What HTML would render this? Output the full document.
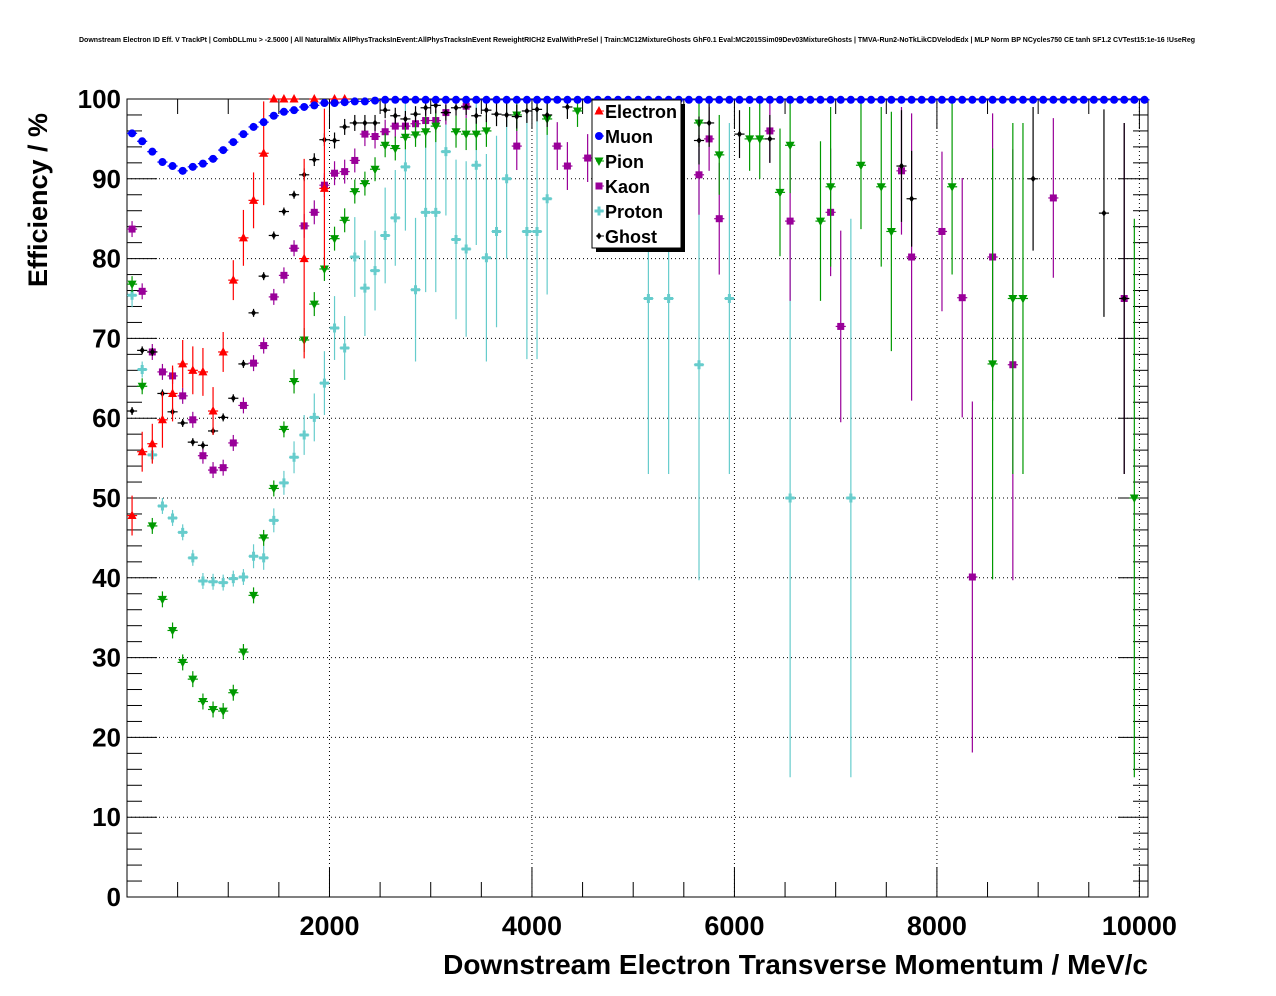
<!DOCTYPE html>
<html><head><meta charset="utf-8"><style>
body{margin:0;background:#fff;}
svg{display:block;font-family:"Liberation Sans",sans-serif;}
</style></head><body>
<svg id="chart" width="1276" height="996" viewBox="0 0 1276 996" xmlns="http://www.w3.org/2000/svg">
<rect width="1276" height="996" fill="#fff"/>
<text x="637" y="42" font-size="7" font-weight="bold" text-anchor="middle">Downstream Electron ID Eff. V TrackPt | CombDLLmu &gt; -2.5000 | All NaturalMix AllPhysTracksInEvent:AllPhysTracksInEvent ReweightRICH2 EvalWithPreSel | Train:MC12MixtureGhosts GhF0.1 Eval:MC2015Sim09Dev03MixtureGhosts | TMVA-Run2-NoTkLikCDVelodEdx | MLP Norm BP NCycles750 CE tanh SF1.2 CVTest15:1e-16 !UseReg</text>
<g id="grid"></g>
<g id="axes"></g>
<g id="marks"></g>
<text transform="translate(47,200) rotate(-90)" font-size="27" font-weight="bold" text-anchor="middle">Efficiency / %</text>
<text x="1148" y="974" font-size="28" font-weight="bold" text-anchor="end">Downstream Electron Transverse Momentum / MeV/c</text>
<g id="legend"></g>
</svg>
<script>
const xTicks=[2000,4000,6000,8000,10000];
const yTicks=[0,10,20,30,40,50,60,70,80,90,100];
const seriesNames=["Electron","Muon","Pion","Kaon","Proton","Ghost"];
const seriesColors=["#ff0000","#0000ff","#009900","#990099","#66cccc","#000000"];

const electronX=[50,150,250,350,450,550,650,750,850,950,1050,1150,1250,1350,1450,1550,1650,1750,1850,1950,2050,2150];
const electronY=[47.8,55.8,56.8,59.8,63.1,66.8,66.0,65.8,60.9,68.3,77.3,82.6,87.3,93.2,100,100,100,80,100,88.8,100,100];
const electronE=[2.5,2.5,2.5,3.5,3.5,3,3,3,3,2.5,2.5,3.5,3.5,6.5,0,0,0,12.5,0,10,0,0];

const muonX=[50,150,250,350,450,550,650,750,850,950,1050,1150,1250,1350,1450,1550,1650,1750,1850,1950,2050,2150,2250,2350,2450,2550,2650,2750,2850,2950,3050,3150,3250,3350,3450,3550,3650,3750,3850,3950,4050,4150,4250,4350,4450,4550,4650,4750,4850,4950,5050,5150,5250,5350,5450,5550,5650,5750,5850,5950,6050,6150,6250,6350,6450,6550,6650,6750,6850,6950,7050,7150,7250,7350,7450,7550,7650,7750,7850,7950,8050,8150,8250,8350,8450,8550,8650,8750,8850,8950,9050,9150,9250,9350,9450,9550,9650,9750,9850,9950,10050];
const muonY=[95.7,94.7,93.4,92.1,91.6,91.0,91.5,91.9,92.5,93.6,94.6,95.6,96.5,97.1,97.9,98.4,98.6,99.0,99.2,99.5,99.5,99.6,99.7,99.7,99.8,99.9,99.9,99.9,99.9,99.9,99.9,99.9,99.9,99.9,99.9,99.9,99.9,99.9,99.9,99.9,99.9,99.9,99.9,99.9,99.9,99.9,99.9,99.9,99.9,99.9,99.9,99.9,99.9,99.9,99.9,99.9,99.9,99.9,99.9,99.9,99.9,99.9,99.9,99.9,99.9,99.9,99.9,99.9,99.9,99.9,99.9,99.9,99.9,99.9,99.9,99.9,99.9,99.9,99.9,99.9,99.9,99.9,99.9,99.9,99.9,99.9,99.9,99.9,99.9,99.9,99.9,99.9,99.9,99.9,99.9,99.9,99.9,99.9,99.9,99.9,99.9];

const pionX=[50,150,250,350,450,550,650,750,850,950,1050,1150,1250,1350,1450,1550,1650,1750,1850,1950,2050,2150,2250,2350,2450,2550,2650,2750,2850,2950,3050,3250,3350,3450,3550,3850,4150,4450,4650,5650,5850,6150,6250,6450,6550,6850,6950,7250,7450,7550,8150,8550,8750,8850,9950];
const pionY=[76.8,64.0,46.5,37.3,33.4,29.4,27.3,24.5,23.5,23.3,25.6,30.7,37.8,45.0,51.2,58.6,64.6,69.8,74.3,78.7,82.5,84.8,88.4,89.4,91.2,94.2,93.8,95.2,95.5,95.9,96.6,95.9,95.6,95.6,96.0,98.0,97.5,98.5,99.0,97.0,93.0,95.0,95.0,88.3,94.2,84.7,89.0,91.7,89.0,83.4,89.0,66.8,75.0,75.0,50.0];
const pionE=[1,1,1,1,1,1,1,1,1,1,1,1,1,1,1,1,1.5,1.5,1.5,1.5,1.5,1.5,1.5,1.5,1.5,1.5,1.5,1.5,1.5,2,2,2,2,2,2,2,2,2,2,3,5,4,5,8,6,10,10,8,10,15,11,27,22,22,35];

const kaonX=[50,150,250,350,450,550,650,750,850,950,1050,1150,1250,1350,1450,1550,1650,1750,1850,1950,2050,2150,2250,2350,2450,2550,2650,2750,2850,2950,3050,3150,3350,3850,4250,4350,4550,5650,5750,5850,6350,6550,6950,7050,7650,7750,8050,8250,8350,8550,8750,9150,9850];
const kaonY=[83.7,75.9,68.3,65.8,65.3,62.8,59.8,55.3,53.5,53.8,56.9,61.6,66.9,69.1,75.2,77.9,81.3,84.1,85.8,89.2,90.7,90.9,92.3,95.6,95.3,95.9,96.6,96.6,96.9,97.3,97.3,98.3,99.1,94.1,94.1,91.6,92.6,90.5,95.0,85.0,96.0,84.7,85.8,71.5,91.0,80.2,83.4,75.1,40.1,80.2,66.7,87.6,75.0];
const kaonE=[1,1,1,1,1,1,1,1,1,1,1,1,1,1,1,1,1,1.5,1.5,1.5,1.5,1.5,1.5,1.5,1.5,1.5,1.5,1.5,1.5,1.5,1.5,1.5,1.5,3,3,3,3,5,4,7,4,10,8,12,8,18,10,15,22,18,27,10,22];

const protonX=[50,150,250,350,450,550,650,750,850,950,1050,1150,1250,1350,1450,1550,1650,1750,1850,1950,2050,2150,2250,2350,2450,2550,2650,2750,2850,2950,3050,3150,3250,3350,3450,3550,3650,3750,3950,4050,4150,5150,5350,5650,5950,6550,7150];
const protonY=[75.4,66.1,55.4,49.0,47.5,45.7,42.5,39.6,39.5,39.4,39.9,40.1,42.7,42.5,47.2,51.9,55.1,57.9,60.1,64.4,71.3,68.8,80.2,76.3,78.5,82.9,85.1,91.5,76.1,85.8,85.8,93.4,82.4,81.2,91.7,80.1,83.4,90.0,83.4,83.4,87.5,75.0,75.0,66.7,75.0,50.0,50.0];
const protonE=[1.5,1,1,1,1,1,1,1,1,1,1,1,1.5,1.5,1.5,1.5,2,2.5,3,4,4,4,5,6,5,6,6,8,9,10,10,8,10,11,10,13,12,10,16,16,12,22,22,27,22,35,35];

const ghostX=[50,150,250,350,450,550,650,750,850,950,1050,1150,1250,1350,1450,1550,1650,1750,1850,1950,2050,2150,2250,2350,2450,2550,2650,2750,2850,2950,3050,3150,3250,3350,3450,3550,3650,3750,3850,3950,4050,4150,4350,5650,5750,6050,6350,7650,7750,8950,9650,9850];
const ghostY=[60.9,68.5,68.3,63.1,60.8,59.4,57.0,56.6,58.4,60.1,62.5,66.8,73.2,77.8,82.9,85.9,88.0,90.5,92.4,94.9,94.8,96.5,97.0,97.0,97.0,98.6,97.9,97.5,98.1,98.9,99.2,98.3,98.9,99.0,97.9,98.6,98.1,98.0,97.8,98.5,98.7,98.0,99.0,94.8,97.0,95.6,95.0,91.6,87.5,90.0,85.7,75.0];
const ghostE=[0.5,0.5,0.5,0.5,0.5,0.5,0.5,0.5,0.5,0.5,0.5,0.5,0.5,0.5,0.5,0.5,0.5,0.8,0.8,0.8,1,1,1,1,1,1,1,1,1,1,1,1,1,1,1,1.5,1.5,1.5,1.5,1.5,1.5,1.5,1.5,3,3,3,3,7,6,9,13,22];

const NS="http://www.w3.org/2000/svg";
const L=127,R=1148,T=99,B=897,XMIN=0,XMAX=10085;
function X(v){return L+(v-XMIN)/(XMAX-XMIN)*(R-L);}
function Y(v){return B-v/100*(B-T);}
function mk(tag,attrs,parent){const e=document.createElementNS(NS,tag);for(const k in attrs)e.setAttribute(k,attrs[k]);parent.appendChild(e);return e;}

const grid=document.getElementById('grid');
xTicks.forEach(t=>{const l=mk('line',{x1:X(t),x2:X(t),y1:T,y2:B,stroke:'#000','stroke-width':1,'stroke-dasharray':'1,3'},grid);

});
yTicks.slice(1).forEach(t=>{const l=mk('line',{x1:L,x2:R,y1:Y(t),y2:Y(t),stroke:'#000','stroke-width':1,'stroke-dasharray':'1,3'},grid);

});

const axes=document.getElementById('axes');
const fr=mk('rect',{x:L,y:T,width:R-L,height:B-T,fill:'none',stroke:'#000','stroke-width':1},axes);


for(let v=500;v<=10000;v+=500){const major=v%2000===0;mk('line',{x1:X(v),x2:X(v),y1:B,y2:B-(major?30:15),stroke:'#000'},axes);mk('line',{x1:X(v),x2:X(v),y1:T,y2:T+(major?30:15),stroke:'#000'},axes);}
for(let v=0;v<=100;v+=2){const major=v%10===0;mk('line',{x1:L,x2:L+(major?30:15),y1:Y(v),y2:Y(v),stroke:'#000'},axes);mk('line',{x1:R,x2:R-(major?30:15),y1:Y(v),y2:Y(v),stroke:'#000'},axes);}
xTicks.forEach(t=>{const tx=mk('text',{x:X(t),y:935,'font-size':27,'font-weight':'bold','text-anchor':'middle'},axes);tx.textContent=t;

});
yTicks.forEach(t=>{const tx=mk('text',{x:121,y:Y(t)+9,'font-size':26,'font-weight':'bold','text-anchor':'end'},axes);tx.textContent=t;

});

function marker(g,kind,cx,cy,c){
  if(kind==0)return mk('polygon',{points:`${cx},${cy-5} ${cx-4.5},${cy+3.5} ${cx+4.5},${cy+3.5}`,fill:c},g);
  if(kind==1)return mk('circle',{cx:cx,cy:cy,r:4,fill:c},g);
  if(kind==2)return mk('polygon',{points:`${cx},${cy+5} ${cx-4.5},${cy-3.5} ${cx+4.5},${cy-3.5}`,fill:c},g);
  if(kind==3)return mk('rect',{x:cx-3.5,y:cy-3.5,width:7,height:7,fill:c},g);
  if(kind==4)return mk('path',{d:`M${cx-4.5},${cy-1.5}h3v-3h3v3h3v3h-3v3h-3v-3h-3z`,fill:c},g);
  return mk('polygon',{points:`${cx},${cy-3.5} ${cx-2.5},${cy} ${cx},${cy+3.5} ${cx+2.5},${cy}`,fill:c},g);
}
const marks=document.getElementById('marks');
const allX=[electronX,muonX,pionX,kaonX,protonX,ghostX];
const allY=[electronY,muonY,pionY,kaonY,protonY,ghostY];
const allE=[electronE,null,pionE,kaonE,protonE,ghostE];
const order=[4,3,2,5,0,1];
order.forEach(s=>{
  const g=mk('g',{},marks);
  
  
  const c=seriesColors[s],xs=allX[s],ys=allY[s],es=allE[s];
  xs.forEach((xv,i)=>{
    const cx=X(xv),cy=Y(ys[i]);
    mk('line',{x1:X(xv-50),x2:X(xv+50),y1:cy,y2:cy,stroke:c,'stroke-width':1.2},g);
    if(es&&es[i]>0){mk('line',{x1:cx,x2:cx,y1:Y(Math.min(100,ys[i]+es[i])),y2:Y(Math.max(0,ys[i]-es[i])),stroke:c,'stroke-width':1.2},g);}
    const m=marker(g,s,cx,cy,c);
    
    
  });
});

const lg=document.getElementById('legend');
mk('rect',{x:596,y:104,width:89,height:148,fill:'#000'},lg);
const lb=mk('rect',{x:592,y:100,width:89,height:148,fill:'#fff',stroke:'#000'},lg);


seriesNames.forEach((n,i)=>{
  const y=111+i*25;
  const g=mk('g',{},lg);
  
  
  mk('line',{x1:596,x2:604,y1:y,y2:y,stroke:seriesColors[i]},g);
  marker(g,i,599,y,seriesColors[i]);
  const t=mk('text',{x:605,y:y+7,'font-size':18,'font-weight':'bold'},g);t.textContent=n;
});
</script>
</body></html>
